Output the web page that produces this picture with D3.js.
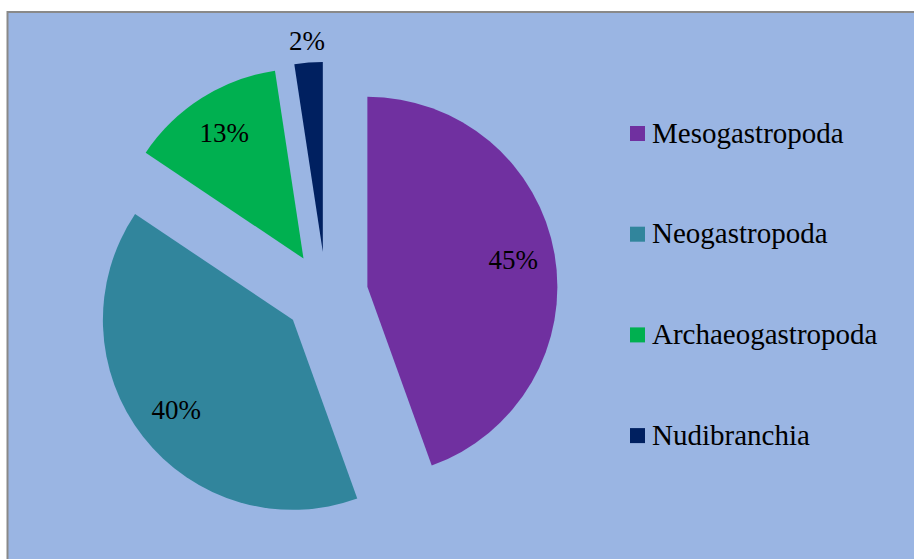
<!DOCTYPE html>
<html lang="en">
<head>
  <meta charset="UTF-8">
  <title>Gastropod orders</title>
  <script src="https://d3js.org/d3.v7.min.js"></script>
  <style>
    body { margin: 0; background: #fff; }
    text { font-family: "Liberation Serif", "Times New Roman", serif; fill: #000; }
  </style>
</head>
<body>
  <svg width="914" height="559"></svg>
  <script>
    // data (share of species, %)
    const categories = ["Mesogastropoda", "Neogastropoda", "Archaeogastropoda", "Nudibranchia"];
    const shares = [44.5, 39.9, 13.2, 2.4];
    const colors = ["#7030A0", "#31859C", "#00B050", "#002060"];

    const width = 914, height = 559;
    const cx = 326, cy = 294;
    const radius = 190;
    const explode = 42;

    const svg = d3.select("svg");

    // plot area background + frame
    svg.append("rect")
      .attr("x", 7.5).attr("y", 12)
      .attr("width", width + 20).attr("height", height + 20)
      .attr("fill", "#9AB5E3")
      .attr("stroke", "#898989")
      .attr("stroke-width", 2);

    const pie = d3.pie().sort(null).value(d => d);
    const arcs = pie(shares);

    const arc = d3.arc().innerRadius(0).outerRadius(radius);
    const labelArc = d3.arc().innerRadius(148).outerRadius(148);
    const outsideArc = d3.arc().innerRadius(211).outerRadius(211);

    // offset of each slice along its bisector
    const shift = d => {
      const a = (d.startAngle + d.endAngle) / 2;
      return [Math.sin(a) * explode, -Math.cos(a) * explode];
    };

    const g = svg.append("g").attr("transform", `translate(${cx},${cy})`);

    const slice = g.selectAll("g.slice")
      .data(arcs)
      .join("g")
      .attr("class", "slice")
      .attr("transform", d => `translate(${shift(d)})`);

    slice.append("path")
      .attr("d", arc)
      .attr("fill", (d, i) => colors[i]);

    slice.append("text")
      .attr("transform", d => {
        const p = d.data < 5 ? outsideArc.centroid(d) : labelArc.centroid(d);
        return `translate(${p})`;
      })
      .attr("text-anchor", "middle")
      .attr("dy", "0.3em")
      .style("font-size", "27px")
      .text(d => Math.round(d.data) + "%");

    // legend
    const legend = svg.append("g")
      .selectAll("g")
      .data(categories)
      .join("g")
      .attr("transform", (d, i) => `translate(630,${126 + i * 100.7})`);

    legend.append("rect")
      .attr("width", 15).attr("height", 15)
      .attr("fill", (d, i) => colors[i]);

    legend.append("text")
      .attr("x", 22).attr("y", 16.7)
      .style("font-size", "29px")
      .text(d => d);
  </script>
</body>
</html>
